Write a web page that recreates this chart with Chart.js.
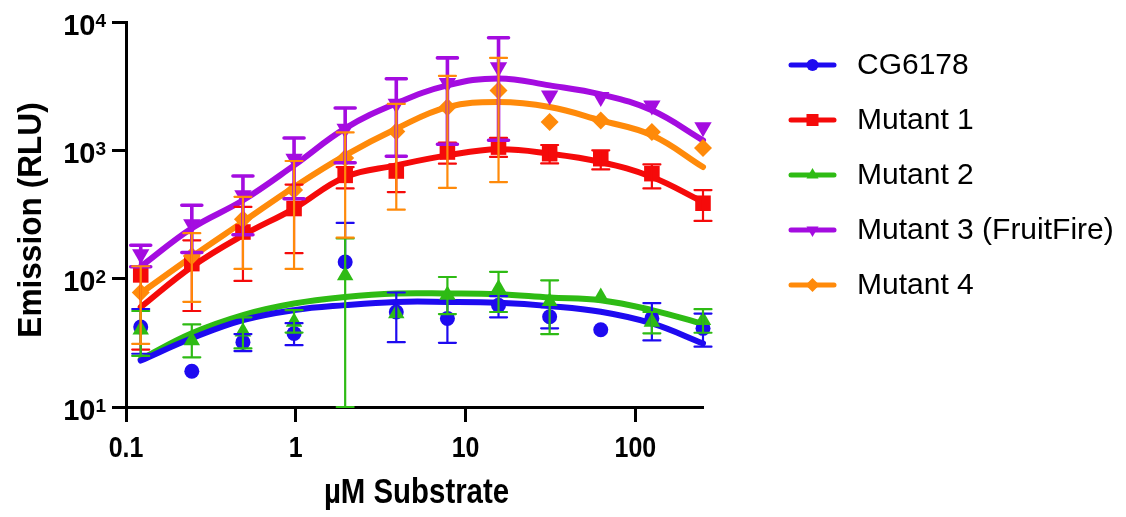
<!DOCTYPE html>
<html><head><meta charset="utf-8">
<script src="https://cdn.jsdelivr.net/npm/chart.js@4.4.1/dist/chart.umd.min.js"></script>
<style>html,body{margin:0;padding:0;background:#fff;}#wrap{width:1126px;height:517px;}</style>
</head><body><div id="wrap"><canvas id="c" width="1126" height="517"></canvas></div>
<script>
// ---- data ----
const concentrations = [0.1221, 0.2441, 0.4883, 0.9766, 1.953, 3.906, 7.8125, 15.625, 31.25, 62.5, 125, 250];
const seriesNames = ['CG6178', 'Mutant 1', 'Mutant 2', 'Mutant 3 (FruitFire)', 'Mutant 4'];

const cg6178Mean  = [42, 19, 32, 37.4, 135, 55, 49, 62, 50.5, 40, 49, 41];
const cg6178Upper = [58, null, 37, 45, 272, 78, 66, 73, 60, null, 64.5, 53.5];
const cg6178Lower = [26, null, 27.3, 30.3, null, 32, 31.6, 50, 41, null, 33, 29.5];
const cg6178Fit   = [23, 34.3, 47.5, 56.9, 62.2, 65.9, 65.9, 64.8, 61.1, 55.2, 44.8, 31.3];

const mutant1Mean  = [107, 131, 231, 352, 638, 690, 970, 1060, 942, 861, 658, 387];
const mutant1Upper = [182, 199, 362, 541, 740, 897, 1150, 1250, 1100, 1000, 777, 490];
const mutant1Lower = [28, 56, 96, 158, 505, 473, 787, 888, 790, 710, 505, 282];
const mutant1Fit   = [60, 124, 218, 352, 620, 764, 914, 1018, 942, 811, 620, 396];

const mutant2Mean  = [40, 33, 38.5, 46, 106, 53.6, 74.5, 84, 66, 72, 46, 47.5];
const mutant2Upper = [56, 44, 50, 56.8, 206, null, 103, 113, 97, null, 55, 57.8];
const mutant2Lower = [25, 24.4, 28.6, 38, 10, null, 53, 55, 37, null, 37.5, 37.9];
const mutant2Fit   = [23.5, 37.5, 52, 64, 72, 76.7, 76.7, 75.7, 71.4, 68, 56.9, 44.3];

const mutant3Mean  = [155, 265, 447, 861, 1475, 2310, 3340, 4450, 2680, 2600, 2240, 1515];
const mutant3Upper = [182, 373, 631, 1247, 2135, 3614, 5250, 7530, null, null, null, null];
const mutant3Lower = [124, 160, 220, 420, 800, 900, 1115, 1197, null, null, null, null];
const mutant3Fit   = [124, 247, 408, 764, 1483, 2322, 3206, 3633, 3206, 2730, 2050, 1197];

const mutant4Mean  = [78, 150, 290, 490, 870, 1400, 2170, 2930, 1660, 1710, 1387, 1042];
const mutant4Upper = [125, 226, 434, 826, 1380, 2300, 3800, 5250, null, null, null, null];
const mutant4Lower = [31, 66, 119, 119, 209, 345, 509, 566, null, null, null, null];
const mutant4Fit   = [77, 148, 277, 518, 914, 1475, 2173, 2377, 2173, 1710, 1310, 741];

const xTickValues = [0.1, 1, 10, 100];
const xTickLabels = ['0.1', '1', '10', '100'];
const yTickValues = [10, 100, 1000, 10000];
const yTickBase = '10';
const yTickExponents = ['1', '2', '3', '4'];
const xTitle = 'µM Substrate';
const yTitle = 'Emission (RLU)';

// ---- styles ----
const styles = [
  {color: '#1E0AF0', style: 'circle', r: 7.5, rot: 0, ew: 2.2, cap: 8.5, lr: 6},
  {color: '#F50A0A', style: 'rect', r: 11, rot: 0, ew: 2.2, cap: 8.5, lr: 8.5},
  {color: '#2EBB14', style: 'triangle', r: 9.5, rot: 0, ew: 2.2, cap: 8.5, lr: 7},
  {color: '#A40CE0', style: 'triangle', r: 10, rot: 180, ew: 3.6, cap: 10, lr: 7},
  {color: '#FF8A0A', style: 'rectRot', r: 9, rot: 0, ew: 2.2, cap: 8.5, lr: 7}
];
const means = [cg6178Mean, mutant1Mean, mutant2Mean, mutant3Mean, mutant4Mean];
const uppers = [cg6178Upper, mutant1Upper, mutant2Upper, mutant3Upper, mutant4Upper];
const lowers = [cg6178Lower, mutant1Lower, mutant2Lower, mutant3Lower, mutant4Lower];
const fits = [cg6178Fit, mutant1Fit, mutant2Fit, mutant3Fit, mutant4Fit];

const SANS = "'Liberation Sans', Arial, sans-serif";

const toXY = (ys) => concentrations.map((c, i) => ({x: c, y: ys[i]}));
const curveOrder = [11, 13, 12, 10, 10];
const pointOrder = [4, 3, 2, 1, 0];
const datasets = [];
seriesNames.forEach((name, s) => {
  datasets.push({
    label: name + ' fit', data: toXY(fits[s]), borderColor: styles[s].color, borderWidth: 6,
    pointRadius: 0, showLine: true, fill: false, tension: 0.4,
    borderCapStyle: 'round', order: curveOrder[s], clip: false
  });
});
seriesNames.forEach((name, s) => {
  datasets.push({
    label: name, data: toXY(means[s]), showLine: false,
    pointStyle: styles[s].style, pointRotation: styles[s].rot, pointRadius: styles[s].r,
    backgroundColor: styles[s].color, borderColor: styles[s].color, borderWidth: 0,
    order: pointOrder[s], clip: false
  });
});

const errorBarPlugin = {
  id: 'errorBars',
  afterDatasetsDraw(chart) {
    const {ctx, scales: {x: xs, y: ys}} = chart;
    ctx.save();
    seriesNames.forEach((n, s) => {
      const st = styles[s];
      ctx.strokeStyle = st.color; ctx.lineWidth = st.ew; ctx.lineCap = 'round';
      concentrations.forEach((c, i) => {
        const up = uppers[s][i], lo = lowers[s][i];
        if (up == null && lo == null) return;
        const px = xs.getPixelForValue(c);
        const yT = ys.getPixelForValue(up != null ? up : means[s][i]);
        const yB = ys.getPixelForValue(lo != null ? lo : means[s][i]);
        ctx.beginPath(); ctx.moveTo(px, yT); ctx.lineTo(px, yB);
        if (up != null) { ctx.moveTo(px - st.cap, yT); ctx.lineTo(px + st.cap, yT); }
        if (lo != null) { ctx.moveTo(px - st.cap, yB); ctx.lineTo(px + st.cap, yB); }
        ctx.stroke();
      });
    });
    ctx.restore();
  }
};

// axis texts: tick labels and titles (condensed bold as in the reference)
const axisTextPlugin = {
  id: 'axisText',
  afterDraw(chart) {
    const {ctx, scales: {x: xs, y: ys}, chartArea} = chart;
    ctx.save();
    ctx.fillStyle = '#000';
    ctx.textBaseline = 'alphabetic';
    // y tick labels 10^n
    yTickValues.forEach((v, i) => {
      const py = ys.getPixelForValue(v);
      const right = 106;
      ctx.font = "bold 19px " + SANS;
      const ew = ctx.measureText(yTickExponents[i]).width;
      ctx.textAlign = 'left';
      ctx.fillText(yTickExponents[i], right - ew, py + 4.5);
      ctx.font = "bold 29px " + SANS;
      ctx.textAlign = 'right';
      ctx.fillText(yTickBase, right - ew, py + 12.5);
    });
    // x tick labels
    xTickValues.forEach((v, i) => {
      const px = xs.getPixelForValue(v);
      ctx.save();
      ctx.translate(px, 457);
      ctx.scale(0.86, 1);
      ctx.font = "bold 29px " + SANS;
      ctx.textAlign = 'center';
      ctx.fillText(xTickLabels[i], 0, 0);
      ctx.restore();
    });
    // x title
    ctx.save();
    ctx.translate((chartArea.left + chartArea.right) / 2 + 2, 503);
    ctx.scale(0.84, 1);
    ctx.font = "bold 35px " + SANS;
    ctx.textAlign = 'center';
    ctx.fillText(xTitle, 0, 0);
    ctx.restore();
    // y title
    ctx.save();
    ctx.translate(41, 220);
    ctx.rotate(-Math.PI / 2);
    ctx.scale(0.93, 1);
    ctx.font = "bold 34px " + SANS;
    ctx.textAlign = 'center';
    ctx.fillText(yTitle, 0, 0);
    ctx.restore();
    ctx.restore();
  }
};

const legendPlugin = {
  id: 'customLegend',
  afterDraw(chart) {
    const {ctx} = chart;
    ctx.save();
    seriesNames.forEach((name, s) => {
      const st = styles[s];
      const py = 65 + 55 * s;
      ctx.strokeStyle = st.color; ctx.lineWidth = 5; ctx.lineCap = 'round';
      ctx.beginPath(); ctx.moveTo(791, py); ctx.lineTo(834, py); ctx.stroke();
      ctx.fillStyle = st.color;
      Chart.helpers.drawPoint(ctx, {pointStyle: st.style, rotation: st.rot, radius: st.lr, borderWidth: 0}, 812.5, py);
      ctx.fillStyle = '#000';
      ctx.font = "30px " + SANS;
      ctx.textAlign = 'left'; ctx.textBaseline = 'middle';
      ctx.fillText(name, 857, py + 1);
    });
    ctx.restore();
  }
};

new Chart(document.getElementById('c'), {
  type: 'scatter',
  data: {datasets},
  plugins: [errorBarPlugin, axisTextPlugin, legendPlugin],
  options: {
    responsive: false, animation: false, devicePixelRatio: 1,
    layout: {padding: {left: 0, top: 22, right: 423, bottom: 0}},
    plugins: {legend: {display: false}, tooltip: {enabled: false}},
    scales: {
      x: {
        type: 'logarithmic', position: 'bottom', min: 0.1, max: 250,
        afterBuildTicks: (s) => { s.ticks = xTickValues.map(v => ({value: v})); },
        afterFit: (s) => { s.height = 110; },
        ticks: {display: false},
        grid: {drawOnChartArea: false, drawTicks: true, tickLength: 15, tickWidth: 3, color: '#000'},
        border: {display: true, width: 3, color: '#000'},
        title: {display: false}
      },
      y: {
        type: 'logarithmic', position: 'left', min: 10, max: 10000,
        afterBuildTicks: (s) => { s.ticks = yTickValues.map(v => ({value: v})); },
        afterFit: (s) => { s.width = 126; },
        ticks: {display: false},
        grid: {drawOnChartArea: false, drawTicks: true, tickLength: 14, tickWidth: 3, color: '#000'},
        border: {display: true, width: 3, color: '#000'},
        title: {display: false}
      }
    }
  }
});
</script></body></html>
